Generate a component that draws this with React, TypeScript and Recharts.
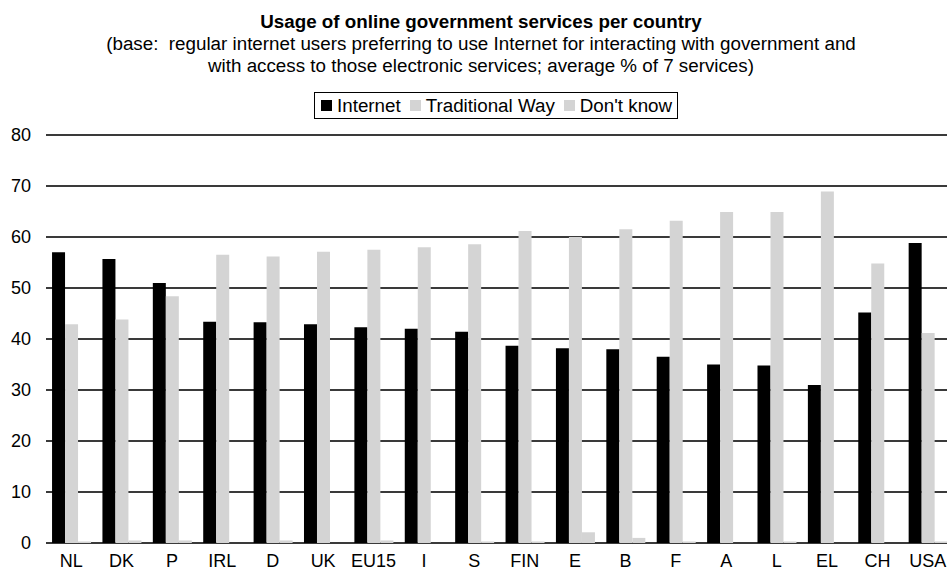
import React from 'react';
import { BarChart, Bar, XAxis, YAxis, CartesianGrid, Legend } from 'recharts';

const countries = ['NL', 'DK', 'P', 'IRL', 'D', 'UK', 'EU15', 'I', 'S', 'FIN', 'E', 'B', 'F', 'A', 'L', 'EL', 'CH', 'USA'];
const internet = [57.0, 55.7, 51.0, 43.4, 43.3, 42.9, 42.3, 42.0, 41.4, 38.7, 38.2, 38.0, 36.5, 35.0, 34.8, 31.0, 45.2, 58.8];
const traditional = [42.9, 43.8, 48.4, 56.5, 56.2, 57.1, 57.5, 58.0, 58.6, 61.2, 60.0, 61.5, 63.2, 64.9, 64.9, 68.9, 54.8, 41.2];
const dontKnow = [0.3, 0.5, 0.5, 0, 0.5, 0, 0.5, 0, 0.3, 0.3, 2.1, 1.0, 0.3, 0, 0.3, 0, 0, 0.3];
const yTicks = [0, 10, 20, 30, 40, 50, 60, 70, 80];

const data = countries.map((c, i) => ({
  country: c,
  internet: internet[i],
  traditional: traditional[i],
  dontKnow: dontKnow[i],
}));

const font = '"Liberation Sans", Arial, sans-serif';

function LegendBox(props: any) {
  const items = props.payload || [];
  return (
    <div
      style={{
        display: 'inline-flex',
        alignItems: 'center',
        boxSizing: 'border-box',
        height: 27,
        border: '1.5px solid #000',
        padding: '0 5px 0 6px',
        fontFamily: font,
        fontSize: 18.8,
        color: '#000',
        background: '#fff',
        whiteSpace: 'nowrap',
      }}
    >
      {items.map((it: any, i: number) => (
        <span key={it.value} style={{ display: 'inline-flex', alignItems: 'center', marginLeft: i ? 9 : 0 }}>
          <span style={{ width: 11, height: 11, background: it.color, display: 'inline-block', marginRight: 5 }} />
          {it.value}
        </span>
      ))}
    </div>
  );
}

export default function App() {
  return (
    <div
      style={{
        position: 'absolute',
        left: 0,
        top: 0,
        width: 947,
        height: 571,
        overflow: 'hidden',
        background: '#fff',
        fontFamily: font,
        color: '#000',
      }}
    >
      <div
        style={{
          position: 'absolute',
          left: 0,
          width: 962,
          top: 11,
          textAlign: 'center',
          fontSize: 18.8,
          lineHeight: '22px',
          fontWeight: 'bold',
        }}
      >
        Usage of online government services per country
      </div>
      <div
        style={{
          position: 'absolute',
          left: 0,
          width: 962,
          top: 32.5,
          textAlign: 'center',
          fontSize: 18.8,
          lineHeight: '22px',
          whiteSpace: 'pre',
        }}
      >
        {'(base:  regular internet users preferring to use Internet for interacting with government and\nwith access to those electronic services; average % of 7 services)'}
      </div>
      <BarChart
        width={960}
        height={571}
        data={data}
        margin={{ top: 135, right: 7, left: 0, bottom: 0 }}
        barCategoryGap="12%"
        barGap={0}
      >
        <CartesianGrid vertical={false} stroke="#3a3a3a" strokeWidth={2} />
        <XAxis
          dataKey="country"
          height={28}
          axisLine={false}
          tickLine={false}
          tickMargin={5}
          interval={0}
          tick={{ fill: '#000', fontSize: 18, fontFamily: font }}
        />
        <YAxis
          width={46}
          domain={[0, 80]}
          ticks={yTicks}
          axisLine={false}
          tickLine={false}
          tickMargin={9}
          tick={{ fill: '#000', fontSize: 18, fontFamily: font }}
        />
        <Legend
          verticalAlign="middle"
          align="center"
          itemSorter={null}
          content={<LegendBox />}
          wrapperStyle={{ top: 92, left: 314, width: 'auto' }}
        />
        <Bar dataKey="internet" name="Internet" fill="#000000" isAnimationActive={false} />
        <Bar dataKey="traditional" name="Traditional Way" fill="#d4d4d4" isAnimationActive={false} />
        <Bar dataKey="dontKnow" name="Don't know" fill="#d4d4d4" isAnimationActive={false} />
      </BarChart>
    </div>
  );
}
